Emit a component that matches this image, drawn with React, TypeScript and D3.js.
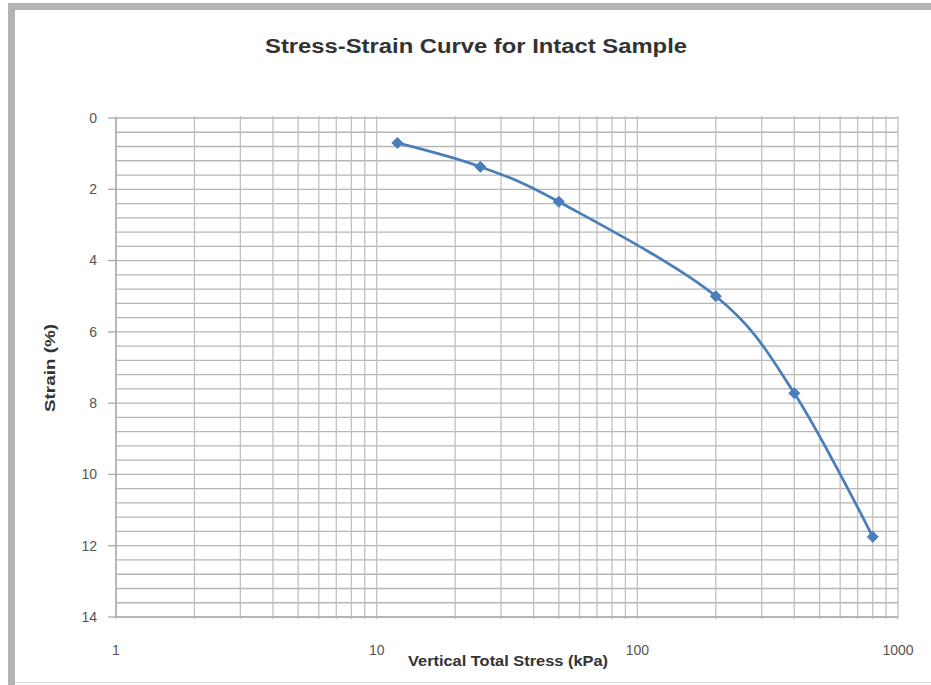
import React from "react";
import * as d3 from "d3";

// Vertical total stress (kPa) applied at each load step
const stressKPa: number[] = [12, 25, 50, 200, 400, 800];
// Measured strain (%) at each load step
const strainPct: number[] = [0.7, 1.37, 2.35, 5.0, 7.72, 11.75];

const xTickValues: number[] = [1, 10, 100, 1000];
const xTickLabels: string[] = ["1", "10", "100", "1000"];
const yTickValues: number[] = [0, 2, 4, 6, 8, 10, 12, 14];

const chartTitle = "Stress-Strain Curve for Intact Sample";
const xTitle = "Vertical Total Stress (kPa)";
const yTitle = "Strain (%)";

const W = 931;
const H = 685;
const plot = { left: 116, right: 898, top: 118, bottom: 617 };

export default function App() {
  const x = d3.scaleLog().domain([1, 1000]).range([plot.left, plot.right]);
  const y = d3.scaleLinear().domain([0, 14]).range([plot.top, plot.bottom]);

  // log grid: every integer multiple inside each decade
  const xGrid: number[] = [];
  for (let dec = 1; dec < 1000; dec *= 10) {
    for (let m = 1; m < 10; m++) xGrid.push(dec * m);
  }
  xGrid.push(1000);

  // horizontal grid every 0.4 %
  const yGrid: number[] = d3.range(0, 36).map((i) => +(i * 0.4).toFixed(2));

  const pts = stressKPa.map((s, i) => [x(s), y(strainPct[i])] as [number, number]);
  const line = d3.line<[number, number]>().curve(d3.curveCardinal.tension(0))(pts) || "";

  const font = "'Liberation Sans', Arial, sans-serif";
  const r = 5.5;

  return (
    <svg
      width={W}
      height={H}
      viewBox={`0 0 ${W} ${H}`}
      style={{ position: "absolute", left: 0, top: 0, background: "#fff" }}
    >
      {/* chart frame */}
      <rect x={0} y={0} width={W} height={H} fill="#fff" />
      <path d={`M11.5 ${H} V6.5 H${W}`} fill="none" stroke="#b3b3b3" strokeWidth={7} />
      <line x1={15} x2={W} y1={682.5} y2={682.5} stroke="#dedede" strokeWidth={1} />

      {/* title */}
      <text
        x={476}
        y={53}
        textAnchor="middle"
        fontFamily={font}
        fontWeight="bold"
        fontSize={20}
        fill="#333"
        textLength={422}
        lengthAdjust="spacingAndGlyphs"
      >
        {chartTitle}
      </text>

      {/* horizontal grid */}
      {yGrid.map((v) => (
        <line
          key={`h${v}`}
          x1={plot.left}
          x2={plot.right}
          y1={y(v)}
          y2={y(v)}
          stroke="#b6b6b6"
          strokeWidth={1.3}
        />
      ))}

      {/* vertical grid */}
      {xGrid.map((v) => (
        <line
          key={`v${v}`}
          x1={x(v)}
          x2={x(v)}
          y1={plot.top - 2}
          y2={plot.bottom + 2}
          stroke="#c0c0c0"
          strokeWidth={1.3}
        />
      ))}

      {/* axes */}
      <line x1={plot.left} x2={plot.left} y1={plot.top} y2={plot.bottom} stroke="#a8a8a8" strokeWidth={1.3} />
      <line x1={plot.left} x2={plot.right} y1={plot.bottom} y2={plot.bottom} stroke="#b0b0b0" strokeWidth={1.3} />

      {/* y ticks and labels */}
      {yTickValues.map((v) => (
        <g key={`yt${v}`}>
          <line x1={plot.left - 8} x2={plot.left} y1={y(v)} y2={y(v)} stroke="#a8a8a8" strokeWidth={1.3} />
          <text
            x={97}
            y={y(v)}
            dy="0.35em"
            textAnchor="end"
            fontFamily={font}
            fontSize={14}
            fill="#555"
          >
            {v}
          </text>
        </g>
      ))}

      {/* x tick labels */}
      {xTickValues.map((v, i) => (
        <text
          key={`xt${v}`}
          x={x(v)}
          y={650}
          dy="0.35em"
          textAnchor="middle"
          fontFamily={font}
          fontSize={14}
          fill="#555"
        >
          {xTickLabels[i]}
        </text>
      ))}

      {/* axis titles */}
      <text
        x={408}
        y={666}
        fontFamily={font}
        fontWeight="bold"
        fontSize={14}
        fill="#333"
        textLength={200}
        lengthAdjust="spacingAndGlyphs"
      >
        {xTitle}
      </text>
      <text
        transform="translate(55,368) rotate(-90)"
        textAnchor="middle"
        fontFamily={font}
        fontWeight="bold"
        fontSize={15}
        fill="#333"
        textLength={88}
        lengthAdjust="spacingAndGlyphs"
      >
        {yTitle}
      </text>

      {/* series */}
      <path d={line} fill="none" stroke="#4a7ebb" strokeWidth={2.75} strokeLinejoin="round" />
      {pts.map(([px, py], i) => (
        <path
          key={`m${i}`}
          d={`M${px},${py - r} L${px + r},${py} L${px},${py + r} L${px - r},${py} Z`}
          fill="#4a7ebb"
          stroke="#4a7ebb"
          strokeWidth={1}
        />
      ))}
    </svg>
  );
}
